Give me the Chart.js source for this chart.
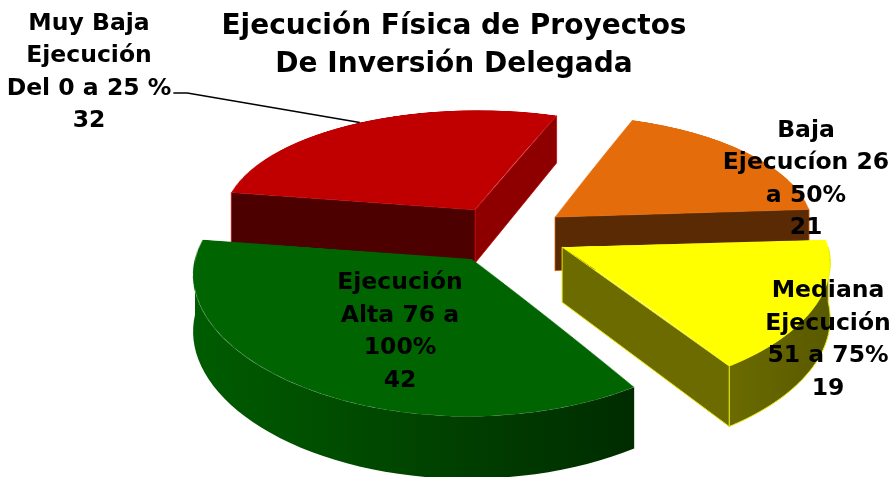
<!DOCTYPE html>
<html>
<head>
<meta charset="utf-8">
<script src="https://cdn.jsdelivr.net/npm/chart.js@4.4.1/dist/chart.umd.min.js"></script>
<style>
html,body{margin:0;padding:0;background:#ffffff;}
canvas{display:block;}
</style>
</head>
<body>
<canvas id="c" width="896" height="477"></canvas>
<script>
// ---------- data ----------
const categories = [
  'Muy Baja Ejecución Del 0 a 25 %',
  'Baja Ejecucíon 26 a 50%',
  'Mediana Ejecución 51 a 75%',
  'Ejecución Alta 76 a 100%'
];
const values = [32, 21, 19, 42];
const labelText = [
  ['Muy Baja', 'Ejecución', 'Del 0 a 25 %'],
  ['Baja', 'Ejecucíon 26', 'a 50%'],
  ['Mediana', 'Ejecución', '51 a 75%'],
  ['Ejecución', 'Alta 76 a', '100%']
];
const titleLines = ['Ejecución Física de Proyectos', 'De Inversión Delegada'];

// ---------- styles ----------
const topColors = ['#C00000', '#E46C0A', '#FFFF00', '#006400'];
const sideStyles = [
  {startFace: '#4C0000', endFace: '#8E0000', rim: ['#8E0000', '#5A0000'], edge: 'rgba(192,0,0,0.7)'},
  {startFace: '#5A2A05', endFace: '#5A2A05', rim: ['#6A3206', '#4A2204'], edge: 'rgba(228,108,10,0.7)'},
  {startFace: '#6B6B00', endFace: '#6B6B00', rim: ['#6B6B00', '#595900'], edge: '#E6E600'},
  {startFace: '#004000', endFace: '#003A00', rim: ['#005C00', '#002C00'], edge: null}
];
// perspective view of the (flat) Chart.js pie
const view = {Sx: 506, Sy: 234, K: 0.466, Dx: 2650, Dy: 1868, Z: 54.5, zk: 0.0243};
const labelAnchors = [
  {x: 89, y: 29.5}, {x: 806, y: 136.7}, {x: 828, y: 297.3}, {x: 400, y: 289.3}
];
const labelFont = 'bold 23.5px "DejaVu Sans"';
const labelGap = 32.5;

function proj(u, v) {
  const sx = 1 / (1 - v / view.Dx), sy = 1 / (1 - v / view.Dy);
  return [view.Sx + u * sx, view.Sy + view.K * v * sy];
}
function depth(v) { return view.Z + view.zk * v; }
function invY(Y) {
  const w = (Y - view.Sy) / view.K;
  return w / (1 + w / view.Dy);
}
function visibleRanges(s, e) {
  const out = [];
  for (let n = -2; n <= 2; n++) {
    const lo = Math.max(s, 2 * Math.PI * n), hi = Math.min(e, 2 * Math.PI * n + Math.PI);
    if (hi > lo) out.push([lo, hi]);
  }
  return out;
}

function sliceGeometry(chart) {
  const meta = chart.getDatasetMeta(0);
  return meta.data.map((el, i) => {
    const d = (el.options.offset || 0) / 4;
    const circ = el.circumference;
    const h = (el.startAngle + el.endAngle) / 2;
    const fix = 1 - Math.sin(Math.min(Math.PI, circ || 0));
    const rOff = d * fix;
    const Rr = el.outerRadius + rOff;
    const alpha = el.endAngle - el.startAngle;
    const beta = Math.max(0.001, alpha * Rr - rOff / Math.PI) / Rr;
    const ao = (alpha - beta) / 2;
    const uP = Math.cos(h) * d, vP = Math.sin(h) * d;
    const apex = proj(uP, vP);
    return {el, i, s: el.startAngle + ao, e: el.endAngle - ao, h, Rr, uP, vP, apex};
  });
}

function rimPoint(g, phi) {
  const u = g.uP + g.Rr * Math.cos(phi), v = g.vP + g.Rr * Math.sin(phi);
  const p = proj(u, v);
  return {x: p[0], y: p[1], dep: depth(v)};
}

const pie3d = {
  id: 'pie3d',
  beforeDatasetsDraw(chart) {
    const ctx = chart.ctx;
    const geo = sliceGeometry(chart);
    chart.$geo = geo;
    const order = geo.slice().sort((p, q) => p.apex[1] - q.apex[1]);
    // ---- side walls ----
    for (const g of order) {
      const st = sideStyles[g.i];
      for (const [t1, t2] of visibleRanges(g.s, g.e)) {
        const N = 48, top = [];
        for (let k = 0; k <= N; k++) top.push(rimPoint(g, t1 + (t2 - t1) * k / N));
        ctx.save();
        ctx.beginPath();
        top.forEach((p, k) => k ? ctx.lineTo(p.x, p.y) : ctx.moveTo(p.x, p.y));
        for (let k = N; k >= 0; k--) ctx.lineTo(top[k].x, top[k].y + top[k].dep);
        ctx.closePath();
        const xs = top.map(p => p.x);
        const gr = ctx.createLinearGradient(Math.min(...xs), 0, Math.max(...xs), 0);
        gr.addColorStop(0, st.rim[0]);
        gr.addColorStop(1, st.rim[1]);
        ctx.fillStyle = gr;
        ctx.fill();
        if (st.edge) { ctx.strokeStyle = st.edge; ctx.lineWidth = 1; ctx.stroke(); }
        ctx.restore();
      }
      const aDep = depth(g.vP);
      const face = (phi, col) => {
        const c = rimPoint(g, phi);
        ctx.beginPath();
        ctx.moveTo(g.apex[0], g.apex[1]);
        ctx.lineTo(c.x, c.y);
        ctx.lineTo(c.x, c.y + c.dep);
        ctx.lineTo(g.apex[0], g.apex[1] + aDep);
        ctx.closePath();
        ctx.fillStyle = col;
        ctx.fill();
        if (st.edge) { ctx.strokeStyle = st.edge; ctx.lineWidth = 1; ctx.stroke(); }
      };
      if (Math.cos(g.s) < 0) face(g.s, st.startFace);
      if (Math.cos(g.e) > 0) face(g.e, st.endFace);
    }
    // ---- top faces: Chart.js arcs drawn flat, then seen in perspective ----
    const S = 720, half = S / 2;
    const off = document.createElement('canvas');
    off.width = S; off.height = S;
    const oc = off.getContext('2d');
    const el0 = geo[0].el;
    oc.translate(half - el0.x, half - el0.y);
    for (const g of order) g.el.draw(oc);
    const yMin = Math.floor(view.Sy + view.K * (-half) / (1 + half / view.Dy));
    const yMax = Math.ceil(view.Sy + view.K * half / (1 - half / view.Dy));
    ctx.save();
    ctx.imageSmoothingEnabled = true;
    for (let Yd = yMin; Yd <= yMax; Yd++) {
      let v0 = invY(Yd), v1 = invY(Yd + 1);
      let r0 = Math.max(0, half + v0), r1 = Math.min(S, half + v1);
      if (r1 - r0 <= 0.01) continue;
      const vm = (v0 + v1) / 2;
      const sx = 1 / (1 - vm / view.Dx);
      ctx.drawImage(off, 0, r0, S, r1 - r0, view.Sx - half * sx, Yd, S * sx, 1);
    }
    ctx.restore();
    return false;
  },
  afterDraw(chart) {
    const ctx = chart.ctx;
    const geo = chart.$geo || sliceGeometry(chart);
    ctx.save();
    ctx.font = labelFont;
    ctx.fillStyle = '#000';
    ctx.textAlign = 'center';
    ctx.textBaseline = 'alphabetic';
    labelText.forEach((lines, i) => {
      const all = lines.concat([String(values[i])]);
      const an = labelAnchors[i];
      all.forEach((ln, j) => ctx.fillText(ln, an.x, an.y + j * labelGap));
    });
    // leader line for the first slice
    const g = geo[0];
    const w = ctx.measureText(labelText[0][2]).width;
    const y0 = labelAnchors[0].y + 2 * labelGap - 1.5;
    const x0 = labelAnchors[0].x + w / 2 + 2;
    const t = rimPoint(g, g.h);
    ctx.beginPath();
    ctx.moveTo(x0, y0);
    ctx.lineTo(x0 + 14, y0);
    ctx.lineTo(t.x, t.y);
    ctx.strokeStyle = '#000';
    ctx.lineWidth = 1.5;
    ctx.stroke();
    ctx.restore();
  }
};

new Chart(document.getElementById('c'), {
  type: 'pie',
  data: {
    labels: categories,
    datasets: [{
      data: values,
      backgroundColor: topColors,
      borderWidth: 0,
      offset: 248,
      hoverOffset: 0,
      radius: 255,
      clip: false
    }]
  },
  options: {
    responsive: false,
    animation: false,
    events: [],
    rotation: -81,
    layout: {padding: {left: 12}},
    plugins: {
      legend: {display: false},
      tooltip: {enabled: false},
      title: {
        display: true,
        text: titleLines,
        color: '#000000',
        font: {family: 'DejaVu Sans', size: 28, weight: 'bold', lineHeight: 38 / 28},
        padding: {top: 8, bottom: 0}
      }
    }
  },
  plugins: [pie3d]
});
</script>
</body>
</html>
